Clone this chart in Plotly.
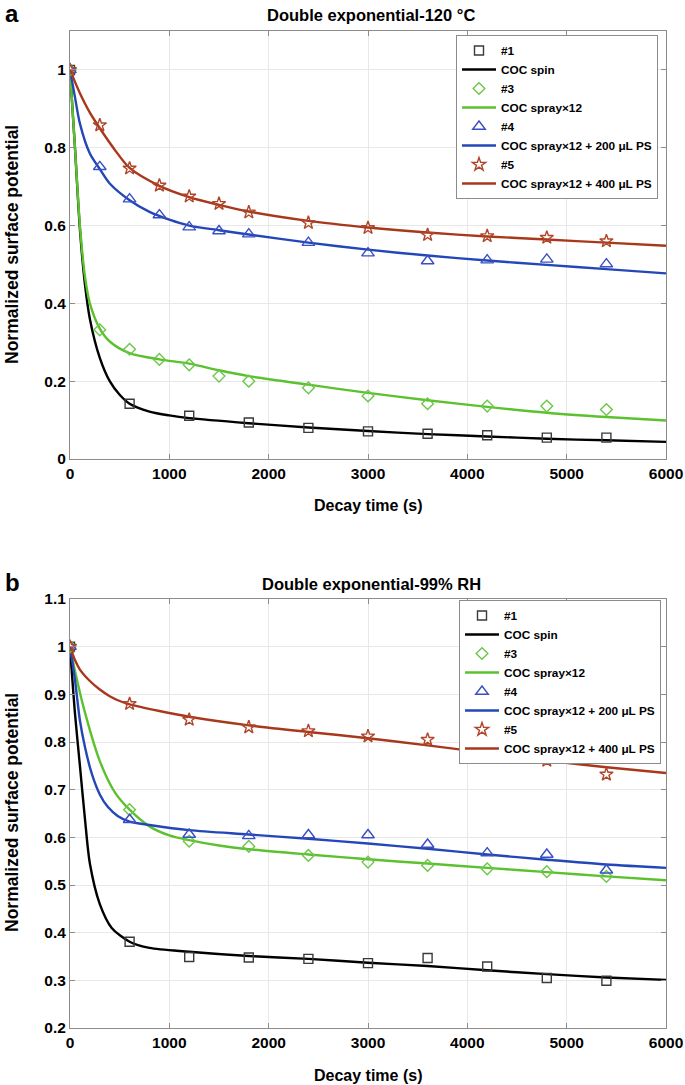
import plotly.graph_objects as go

# ---------------- Panel a: Double exponential-120 °C ----------------
a_t1 = [0, 600, 1200, 1800, 2400, 3000, 3600, 4200, 4800, 5400]
a_y1 = [1.0, 0.142, 0.111, 0.094, 0.080, 0.071, 0.065, 0.061, 0.055, 0.055]
a_t3 = [0, 300, 600, 900, 1200, 1500, 1800, 2400, 3000, 3600, 4200, 4800, 5400]
a_y3 = [1.0, 0.332, 0.282, 0.256, 0.242, 0.213, 0.200, 0.183, 0.162, 0.142, 0.136, 0.136, 0.127]
a_t4 = [0, 300, 600, 900, 1200, 1500, 1800, 2400, 3000, 3600, 4200, 4800, 5400]
a_y4 = [1.0, 0.751, 0.668, 0.627, 0.596, 0.586, 0.578, 0.556, 0.529, 0.509, 0.511, 0.513, 0.501]
a_t5 = [0, 300, 600, 900, 1200, 1500, 1800, 2400, 3000, 3600, 4200, 4800, 5400]
a_y5 = [1.0, 0.858, 0.747, 0.703, 0.675, 0.656, 0.634, 0.607, 0.594, 0.576, 0.573, 0.569, 0.560]

# fitted curves
a_fit1_t = [0, 50, 100, 150, 200, 300, 400, 500, 600, 800, 1000, 1200, 1800, 2400, 3000, 3600, 4200, 4800, 5400, 6000]
a_fit1_y = [1.0, 0.80, 0.59, 0.45, 0.36, 0.26, 0.20, 0.165, 0.142, 0.122, 0.112, 0.105, 0.092, 0.081, 0.072, 0.064, 0.058, 0.052, 0.048, 0.044]
a_fit3_t = [0, 50, 100, 150, 200, 300, 400, 600, 900, 1200, 1500, 1800, 2400, 3000, 3600, 4200, 4800, 5400, 6000]
a_fit3_y = [1.0, 0.80, 0.60, 0.47, 0.40, 0.335, 0.302, 0.272, 0.256, 0.245, 0.228, 0.213, 0.191, 0.170, 0.151, 0.134, 0.119, 0.108, 0.099]
a_fit4_t = [0, 50, 100, 200, 300, 400, 600, 800, 1000, 1200, 1500, 1800, 2400, 3000, 3600, 4200, 4800, 5400, 6000]
a_fit4_y = [1.0, 0.93, 0.862, 0.785, 0.745, 0.708, 0.665, 0.635, 0.615, 0.600, 0.588, 0.577, 0.556, 0.538, 0.523, 0.510, 0.499, 0.488, 0.477]
a_fit5_t = [0, 100, 200, 300, 450, 600, 900, 1200, 1500, 1800, 2400, 3000, 3600, 4200, 4800, 5400, 6000]
a_fit5_y = [1.0, 0.94, 0.89, 0.85, 0.795, 0.748, 0.702, 0.673, 0.653, 0.636, 0.612, 0.595, 0.582, 0.572, 0.564, 0.556, 0.548]

# ---------------- Panel b: Double exponential-99% RH ----------------
b_t = [0, 600, 1200, 1800, 2400, 3000, 3600, 4200, 4800, 5400]
b_y1 = [1.0, 0.381, 0.349, 0.348, 0.345, 0.336, 0.347, 0.329, 0.305, 0.299]
b_y3 = [1.0, 0.658, 0.592, 0.581, 0.562, 0.548, 0.541, 0.534, 0.528, 0.518]
b_y4 = [1.0, 0.637, 0.606, 0.603, 0.605, 0.605, 0.585, 0.567, 0.564, 0.531]
b_y5 = [1.0, 0.880, 0.847, 0.831, 0.823, 0.812, 0.805, 0.788, 0.761, 0.732]

b_fit1_t = [0, 50, 100, 150, 200, 300, 420, 600, 800, 1200, 1800, 2400, 3000, 3600, 4200, 4800, 5400, 6000]
b_fit1_y = [1.0, 0.86, 0.75, 0.64, 0.545, 0.46, 0.41, 0.381, 0.368, 0.360, 0.351, 0.345, 0.337, 0.330, 0.321, 0.313, 0.306, 0.301]
b_fit3_t = [0, 60, 140, 300, 450, 600, 800, 1000, 1200, 1500, 1800, 2400, 3000, 3600, 4200, 4800, 5400, 6000]
b_fit3_y = [1.0, 0.94, 0.87, 0.76, 0.695, 0.658, 0.623, 0.604, 0.594, 0.583, 0.575, 0.564, 0.554, 0.545, 0.536, 0.527, 0.518, 0.510]
b_fit4_t = [0, 50, 100, 150, 220, 300, 380, 480, 600, 800, 1200, 1800, 2400, 3000, 3600, 4200, 4800, 5400, 6000]
b_fit4_y = [1.0, 0.93, 0.845, 0.79, 0.733, 0.69, 0.664, 0.645, 0.633, 0.626, 0.615, 0.606, 0.597, 0.587, 0.576, 0.564, 0.553, 0.543, 0.536]
b_fit5_t = [0, 50, 100, 200, 300, 400, 500, 600, 900, 1200, 1800, 2400, 3000, 3600, 4200, 4800, 5400, 6000]
b_fit5_y = [1.0, 0.972, 0.952, 0.928, 0.910, 0.896, 0.886, 0.879, 0.865, 0.853, 0.835, 0.821, 0.808, 0.793, 0.777, 0.761, 0.747, 0.735]

names_markers = ["#1", "#3", "#4", "#5"]
names_lines = ["COC spin", "COC spray×12", "COC spray×12 + 200 μL PS", "COC spray×12 + 400 μL PS"]

line_colors = ["#000000", "#5cc12e", "#2447b8", "#a8381c"]
marker_colors = ["#3a3a3a", "#6cc64a", "#3a4fc4", "#b0452a"]
symbols = ["square-open", "diamond-open", "triangle-up-open", "star-open"]
sizes = [9, 9, 11, 10]

FONT = "Liberation Sans"

fig = go.Figure()

panels = [
    dict(xa="x", ya="y", legend="legend",
         pts=[(a_t1, a_y1), (a_t3, a_y3), (a_t4, a_y4), (a_t5, a_y5)],
         fits=[(a_fit1_t, a_fit1_y), (a_fit3_t, a_fit3_y), (a_fit4_t, a_fit4_y), (a_fit5_t, a_fit5_y)]),
    dict(xa="x2", ya="y2", legend="legend2",
         pts=[(b_t, b_y1), (b_t, b_y3), (b_t, b_y4), (b_t, b_y5)],
         fits=[(b_fit1_t, b_fit1_y), (b_fit3_t, b_fit3_y), (b_fit4_t, b_fit4_y), (b_fit5_t, b_fit5_y)]),
]

for p in panels:
    line_traces = []
    for i in range(4):
        ft, fy = p["fits"][i]
        line_traces.append(go.Scatter(
            x=ft, y=fy, mode="lines", name=names_lines[i],
            line=dict(color=line_colors[i], width=2.4, shape="spline", smoothing=0.8),
            xaxis=p["xa"], yaxis=p["ya"], legend=p["legend"],
            legendrank=2 * i + 2, showlegend=True))
    marker_traces = []
    for i in range(4):
        pt, pyv = p["pts"][i]
        marker_traces.append(go.Scatter(
            x=pt, y=pyv, mode="markers", name=names_markers[i],
            marker=dict(symbol=symbols[i], size=sizes[i], color=marker_colors[i],
                        line=dict(color=marker_colors[i], width=1.4)),
            xaxis=p["xa"], yaxis=p["ya"], legend=p["legend"],
            legendrank=2 * i + 1, showlegend=True))
    for tr in line_traces + marker_traces:
        fig.add_trace(tr)

W, H = 685, 1085
L, R, T, B = 70, 19, 31, 57
ph = H - T - B
top_a, bot_a = 31, 459
top_b, bot_b = 599, 1028

def py(ypix):
    return (H - B - ypix) / ph

def px(xpix):
    return (xpix - L) / (W - L - R)

axis_common = dict(
    showline=True, linecolor="#8c8c8c", linewidth=1, mirror="ticks",
    ticks="inside", ticklen=5, tickcolor="#8c8c8c", automargin=False,
    showgrid=True, gridcolor="#e8e8e8", gridwidth=1, zeroline=False,
    tickfont=dict(family=FONT, size=15.5, color="#000", weight="bold"),
)

legend_common = dict(xanchor="left", yanchor="top",
                     bgcolor="white", bordercolor="#8c8c8c", borderwidth=1,
                     font=dict(family=FONT, size=11.8, color="#000", weight="bold"),
                     tracegroupgap=0, itemwidth=34, traceorder="normal")

fig.update_layout(
    width=W, height=H,
    margin=dict(l=L, r=R, t=T, b=B, autoexpand=False),
    paper_bgcolor="white", plot_bgcolor="white",
    showlegend=True,
    xaxis=dict(domain=[0, 1], anchor="y", range=[0, 6000], tickvals=[0, 1000, 2000, 3000, 4000, 5000, 6000], **axis_common),
    yaxis=dict(domain=[py(bot_a), py(top_a)], anchor="x", range=[0, 1.1],
               tickvals=[0, 0.2, 0.4, 0.6, 0.8, 1.0], ticktext=["0", "0.2", "0.4", "0.6", "0.8", "1"], **axis_common),
    xaxis2=dict(domain=[0, 1], anchor="y2", range=[0, 6000], tickvals=[0, 1000, 2000, 3000, 4000, 5000, 6000], **axis_common),
    yaxis2=dict(domain=[py(bot_b), py(top_b)], anchor="x2", range=[0.2, 1.1],
                tickvals=[0.2, 0.3, 0.4, 0.5, 0.6, 0.7, 0.8, 0.9, 1.0, 1.1],
                ticktext=["0.2", "0.3", "0.4", "0.5", "0.6", "0.7", "0.8", "0.9", "1", "1.1"], **axis_common),
    legend=dict(x=px(456), y=py(35), **legend_common),
    legend2=dict(x=px(459), y=py(600), **legend_common),
)

ann = []
def text(x, y, s, size, angle=0, xanchor="center"):
    ann.append(dict(x=px(x), y=py(y), xref="paper", yref="paper", text=s, showarrow=False,
                    textangle=angle, xanchor=xanchor, yanchor="middle",
                    font=dict(family=FONT, size=size, color="#000", weight="bold")))

text(371, 15, "Double exponential-120 °C", 16.5)
text(371, 584, "Double exponential-99% RH", 16.5)
text(3, 14, "a", 24, xanchor="left")
text(3, 582, "b", 24, xanchor="left")
text(368, 506, "Decay time (s)", 16)
text(368, 1075, "Decay time (s)", 16)
text(12, 245, "Normalized surface potential", 17.5, angle=-90)
text(12, 813, "Normalized surface potential", 17.5, angle=-90)

fig.update_layout(annotations=ann)

fig.write_html("out.html", config={"displayModeBar": False},
               post_script="document.body.style.margin='0px';")
